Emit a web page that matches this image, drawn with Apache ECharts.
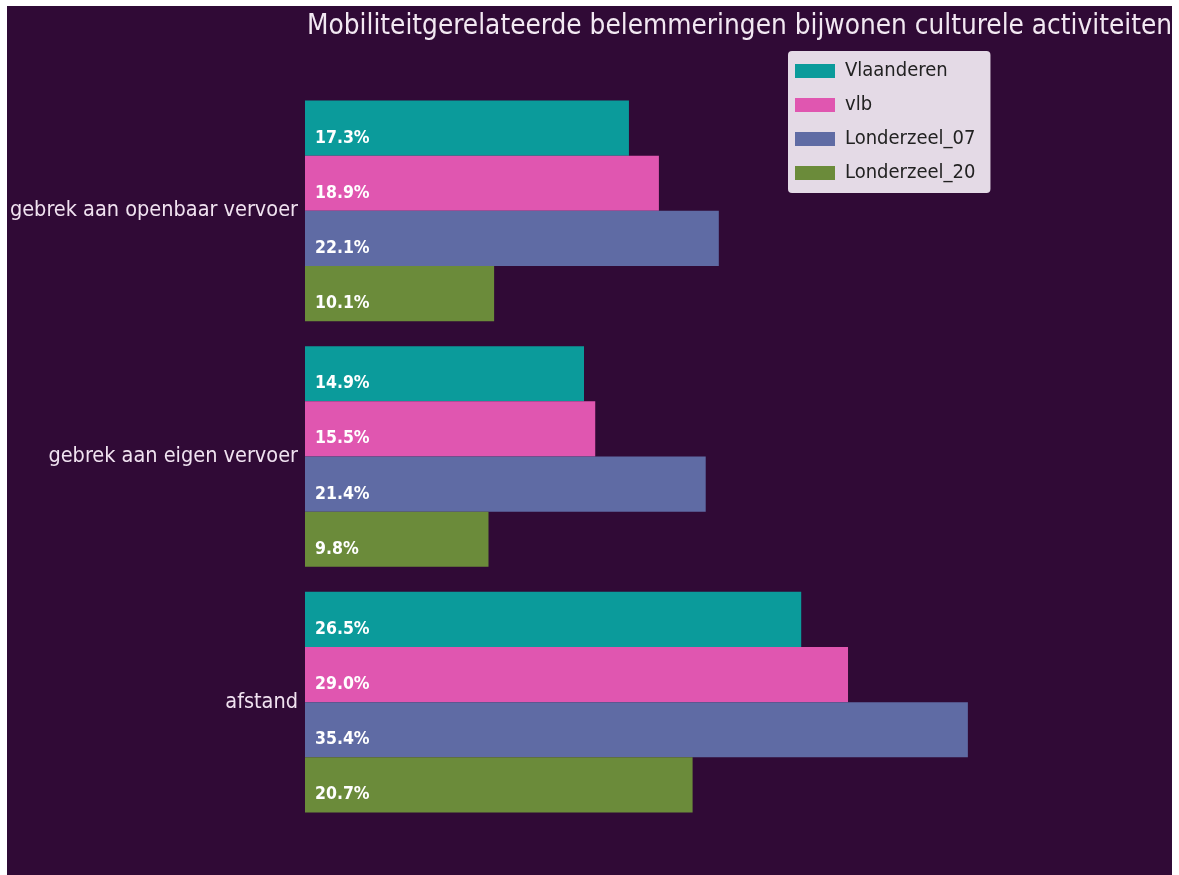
<!DOCTYPE html>
<html lang="nl">
<head>
    <meta charset="UTF-8">
    <script src="https://cdn.jsdelivr.net/npm/echarts@6/dist/echarts.min.js"></script>
    <title>Mobiliteit</title>
    <style>
        html, body { margin: 0; padding: 0; background: #ffffff; }
        #main { width: 1179px; height: 875px; }
    </style>
</head>
<body>
    <div id="main"></div>
    <script>
        // categories top to bottom
        var categories = ['gebrek aan openbaar vervoer', 'gebrek aan eigen vervoer', 'afstand'];
        var seriesNames = ['Vlaanderen', 'vlb', 'Londerzeel_07', 'Londerzeel_20'];
        var vlaanderen = [17.3, 14.9, 26.5];
        var vlb = [18.9, 15.5, 29.0];
        var londerzeel07 = [22.1, 21.4, 35.4];
        var londerzeel20 = [10.1, 9.8, 20.7];
        var colors = ['#0b9b9b', '#e056b0', '#5f6ba4', '#6b8b3a'];

        var font = "'DejaVu Sans Condensed', 'DejaVu Sans', sans-serif";

        var values = [vlaanderen, vlb, londerzeel07, londerzeel20];
        var series = [];
        for (var i = 0; i < seriesNames.length; i++) {
            series.push({
                name: seriesNames[i],
                type: 'bar',
                data: values[i],
                barGap: '0%',
                barCategoryGap: '10.2%',
                itemStyle: { color: colors[i] },
                label: {
                    show: true,
                    position: 'insideLeft',
                    distance: 10,
                    offset: [0, 10],
                    color: '#ffffff',
                    fontFamily: font,
                    fontWeight: 'bold',
                    fontSize: 17.5,
                    formatter: function (p) {
                        return p.value.toFixed(1) + '%';
                    }
                }
            });
        }

        var chart = echarts.init(document.getElementById('main'));
        var option = {
            animation: false,
            backgroundColor: '#ffffff',
            graphic: [{
                type: 'rect',
                z: -10,
                shape: { x: 7, y: 6, width: 1165, height: 875 },
                style: { fill: '#300a36' }
            }],
            title: {
                text: 'Mobiliteitgerelateerde belemmeringen bijwonen culturele activiteiten',
                left: 302,
                top: 8,
                textStyle: {
                    color: '#f2e8f2',
                    fontFamily: font,
                    fontWeight: 'normal',
                    fontSize: 27.7
                }
            },
            legend: {
                orient: 'vertical',
                left: 788,
                top: 51,
                padding: [10, 15, 10, 7],
                itemWidth: 40,
                itemHeight: 14,
                itemGap: 14,
                icon: 'rect',
                backgroundColor: '#e4dae6',
                borderRadius: 4,
                textStyle: {
                    color: '#222222',
                    fontFamily: font,
                    fontSize: 20,
                    padding: [0, 0, 0, 5]
                },
                data: seriesNames
            },
            grid: {
                left: 305,
                right: 125,
                top: 88,
                bottom: 50,
                containLabel: false
            },
            xAxis: {
                type: 'value',
                min: 0,
                max: 40,
                show: false
            },
            yAxis: {
                type: 'category',
                inverse: true,
                data: categories,
                axisLine: { show: false },
                axisTick: { show: false },
                axisLabel: {
                    margin: 7,
                    color: '#f0e2f0',
                    fontFamily: font,
                    fontSize: 21.5
                }
            },
            series: series
        };
        chart.setOption(option);
    </script>
</body>
</html>
